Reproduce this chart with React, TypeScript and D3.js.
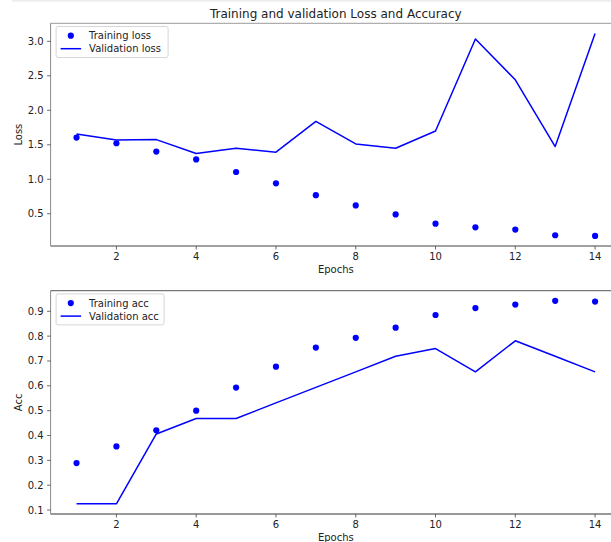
import React from "react";
import * as d3 from "d3";

// epochs 1..14
const epochs = [1, 2, 3, 4, 5, 6, 7, 8, 9, 10, 11, 12, 13, 14];

const trainLoss = [1.604, 1.522, 1.402, 1.287, 1.105, 0.941, 0.769, 0.62, 0.49, 0.356, 0.303, 0.27, 0.188, 0.179];
const valLoss = [1.656, 1.57, 1.575, 1.373, 1.45, 1.393, 1.839, 1.512, 1.45, 1.7, 3.034, 2.443, 1.474, 3.115];

const trainAcc = [0.289, 0.356, 0.421, 0.5, 0.593, 0.677, 0.754, 0.793, 0.834, 0.885, 0.913, 0.927, 0.942, 0.939];
const valAcc = [0.125, 0.125, 0.40625, 0.46875, 0.46875, 0.53125, 0.59375, 0.65625, 0.71875, 0.75, 0.65625, 0.78125, 0.71875, 0.65625];

const xTicks = [2, 4, 6, 8, 10, 12, 14];
const lossTicks = [0.5, 1.0, 1.5, 2.0, 2.5, 3.0];
const accTicks = [0.1, 0.2, 0.3, 0.4, 0.5, 0.6, 0.7, 0.8, 0.9];

const FONT = "DejaVu Sans, sans-serif";
const BLUE = "#0000ff";

// matplotlib style 5% margins
const padded = (vals: number[]): [number, number] => {
  const [lo, hi] = d3.extent(vals) as [number, number];
  const m = (hi - lo) * 0.05;
  return [lo - m, hi + m];
};

type PanelProps = {
  top: number;
  bottom: number;
  train: number[];
  val: number[];
  yTicks: number[];
  yLabel: string;
  trainName: string;
  valName: string;
  legendW: number;
  topSpine: string;
  bottomSpine: string;
};

const left = 50.6;
const right = 621;

const Panel = ({ top, bottom, train, val, yTicks, yLabel, trainName, valName, legendW, topSpine, bottomSpine }: PanelProps) => {
  const x = d3.scaleLinear().domain(padded(epochs)).range([left, right]);
  const y = d3.scaleLinear().domain(padded([...train, ...val])).range([bottom, top]);
  const line = d3
    .line<number>()
    .x((_, i) => x(epochs[i]))
    .y((d) => y(d));

  const lx = left + 5.5;
  const ly = top + 3.2;

  return (
    <g>
      <path d={line(val) || ""} fill="none" stroke={BLUE} strokeWidth={1.5} strokeLinejoin="round" />
      {train.map((d, i) => (
        <circle key={i} cx={x(epochs[i])} cy={y(d)} r={3.1} fill={BLUE} />
      ))}

      {/* spines */}
      <line x1={left} x2={right} y1={top} y2={top} stroke={topSpine} strokeWidth={1} />
      <line x1={left} x2={right} y1={bottom} y2={bottom} stroke={bottomSpine} strokeWidth={1} />
      <line x1={left} x2={left} y1={top} y2={bottom} stroke="#8a8a8a" strokeWidth={1} />

      {/* x ticks */}
      {xTicks.map((t) => (
        <g key={t}>
          <line x1={x(t)} x2={x(t)} y1={bottom} y2={bottom + 3.5} stroke="#444" strokeWidth={0.8} />
          <text x={x(t)} y={bottom + 14.2} textAnchor="middle" fontSize={10} fontFamily={FONT} fill="#222">
            {t}
          </text>
        </g>
      ))}
      <text x={(left + right) / 2} y={bottom + 26.5} textAnchor="middle" fontSize={10} fontFamily={FONT} fill="#222">
        Epochs
      </text>

      {/* y ticks */}
      {yTicks.map((t) => (
        <g key={t}>
          <line x1={left - 3.5} x2={left} y1={y(t)} y2={y(t)} stroke="#444" strokeWidth={0.8} />
          <text x={left - 7} y={y(t)} dy="0.35em" textAnchor="end" fontSize={10} fontFamily={FONT} fill="#222">
            {t.toFixed(1)}
          </text>
        </g>
      ))}
      <text
        transform={`translate(18.5,${(top + bottom) / 2}) rotate(-90)`}
        textAnchor="middle"
        dy="0.35em"
        fontSize={10}
        fontFamily={FONT}
        fill="#222"
      >
        {yLabel}
      </text>

      {/* legend */}
      <rect x={lx} y={ly} width={legendW} height={31} rx={2} fill="#fff" fillOpacity={0.8} stroke="#d6d6d6" strokeWidth={1} />
      <circle cx={lx + 14.7} cy={ly + 9.2} r={3.1} fill={BLUE} />
      <text x={lx + 33} y={ly + 9.2} dy="0.36em" fontSize={10} fontFamily={FONT} fill="#222">
        {trainName}
      </text>
      <line x1={lx + 4.5} x2={lx + 25} y1={ly + 22.2} y2={ly + 22.2} stroke={BLUE} strokeWidth={1.5} />
      <text x={lx + 33} y={ly + 22.2} dy="0.36em" fontSize={10} fontFamily={FONT} fill="#222">
        {valName}
      </text>
    </g>
  );
};

const App = () => {
  return (
    <svg
      width={611}
      height={542}
      style={{ position: "fixed", left: 0, top: 0, background: "#fff" }}
    >
      <rect x={12} y={0} width={599} height={1.6} fill="#ececec" />
      <text x={(left + right) / 2} y={18} textAnchor="middle" fontSize={12} fontFamily={FONT} fill="#222">
        Training and validation Loss and Accuracy
      </text>
      <Panel
        top={23.3}
        bottom={246}
        train={trainLoss}
        val={valLoss}
        yTicks={lossTicks}
        yLabel="Loss"
        trainName="Training loss"
        valName="Validation loss"
        legendW={112}
        topSpine="#9a9a9a"
        bottomSpine="#444"
      />
      <Panel
        top={290.7}
        bottom={514}
        train={trainAcc}
        val={valAcc}
        yTicks={accTicks}
        yLabel="Acc"
        trainName="Training acc"
        valName="Validation acc"
        legendW={108}
        topSpine="#555"
        bottomSpine="#333"
      />
    </svg>
  );
};

export default App;
